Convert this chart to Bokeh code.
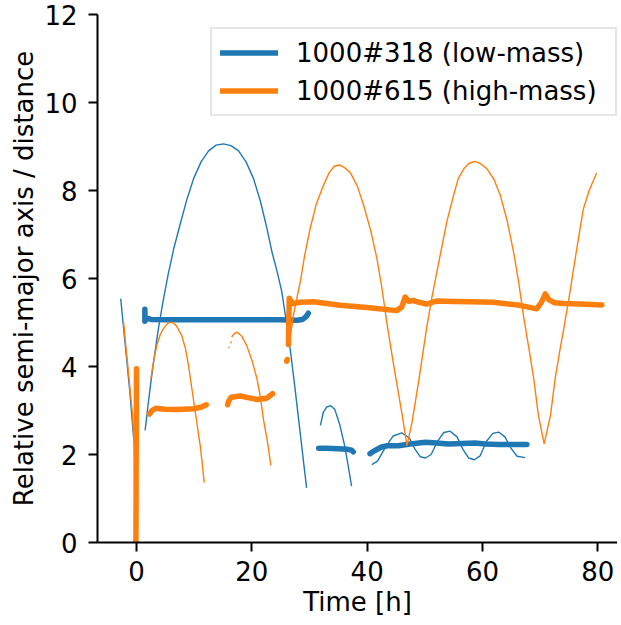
from bokeh.plotting import figure
from bokeh.models import Range1d, Legend, LegendItem, FixedTicker
from bokeh.embed import file_html
from bokeh.resources import INLINE

nan = float("nan")

# ---- data ----
# low-mass system 1000#318: distance (thin) and semi-major axis (thick)
low_dist_t = [-2.74, -2.0, -1.2, -0.45, nan,
              1.5, 2.0, 2.5, 3.0, 3.8, 4.6, 5.5, 6.5, 7.5, 8.7, 9.9, 11.2, 12.5, 13.8, 15.1,
              16.4, 17.7, 19.0, 20.3, 21.5, 22.6, 23.5, 24.4, 25.2, 26.0, 26.8, 27.5, 28.0, 28.5, 29.0, 29.5, nan,
              31.9, 32.4, 33.0, 33.7, 34.4, 35.2, 36.1, 36.7, 37.3, nan,
              40.8, 41.8, 43.1, 44.5, 46.0, 47.3, 48.3, 49.2, 50.1, 51.1, 52.2, 53.3, 54.4, 55.6, 56.6, 57.6,
              58.6, 59.6, 60.7, 61.8, 62.8, 63.9, 64.9, 66.0, 67.4]
low_dist = [5.54, 4.55, 3.49, 2.3, nan,
            2.55, 3.12, 3.65, 4.14, 4.86, 5.48, 6.1, 6.7, 7.2, 7.78, 8.27, 8.65, 8.9, 9.03, 9.06,
            9.02, 8.9, 8.65, 8.27, 7.75, 7.15, 6.6, 6.15, 5.7, 5.0, 4.25, 3.49, 2.93, 2.37, 1.8, 1.24, nan,
            2.66, 2.96, 3.08, 3.11, 3.02, 2.7, 2.2, 1.75, 1.28, nan,
            1.77, 1.85, 2.15, 2.42, 2.49, 2.38, 2.12, 1.95, 1.92, 2.0, 2.3, 2.5, 2.53, 2.4, 2.12, 1.92,
            1.88, 1.97, 2.3, 2.48, 2.51, 2.4, 2.15, 1.96, 1.93]

low_a_t = [1.45, 1.45, 1.8, 2.5, 5, 10, 15, 20, 25, 27.8, 28.8, 29.4, 29.8, nan,
           31.6, 33.0, 35.0, 36.5, 37.3, 37.6, nan,
           40.5, 41.2, 42.5, 43.5, 45.4, 47.5, 50.1, 52.0, 54.1, 56.5, 58.7, 60.5, 62.8, 65.0, 67.7]
low_a = [5.3, 5.03, 5.1, 5.07, 5.06, 5.06, 5.06, 5.06, 5.06, 5.05, 5.07, 5.13, 5.21, nan,
         2.14, 2.14, 2.13, 2.12, 2.1, 2.06, nan,
         2.02, 2.08, 2.17, 2.2, 2.2, 2.24, 2.28, 2.26, 2.24, 2.25, 2.26, 2.24, 2.23, 2.23, 2.23]

# high-mass system 1000#615
high_dist_t = [-2.25, -1.5, -0.65, -0.4, -0.25, nan,
               2.48, 3.0, 3.52, 4.1, 4.68, 5.4, 6.12, 6.9, 7.86, 8.5, 9.02, 9.6, 10.2, 10.6, 11.05, 11.4, 11.74, nan,
               16.0, 16.1, nan, 16.35, 16.45, nan,
               16.5, 17.0, 17.5, 18.3, 19.1, 20.0, 20.9, 21.5, 22.0, 22.7, 23.3, nan,
               26.5, 27.2, 27.8, 28.4, 29.2, 30.1, 31.2, 32.4, 33.4, 34.3, 35.2, 36.1, 37.1, 38.3, 39.4,
               40.6, 41.7, 42.6, 43.4, 44.2, 45.0, 46.0, 46.9, 47.8, 49.0, 50.3, 51.2, 52.1, 53.0, 53.8,
               54.8, 55.8, 56.8, 57.7, 58.7, 59.8, 60.8, 62.0, 63.1, 64.3, 65.4, 66.3, 67.1, 68.0, 68.9,
               69.7, 70.7, 71.8, 72.6, 73.4, 74.1, 75.0, 75.8, 76.7, 77.5, 78.5, 79.8]
high_dist = [5.01, 4.0, 2.85, 2.2, 0.95, nan,
             3.72, 4.15, 4.48, 4.72, 4.86, 4.98, 5.01, 4.93, 4.7, 4.4, 4.02, 3.5, 2.96, 2.6, 2.2, 1.8, 1.36, nan,
             4.42, 4.45, nan, 4.53, 4.57, nan,
             4.67, 4.75, 4.78, 4.68, 4.48, 4.15, 3.72, 3.3, 2.81, 2.3, 1.75, nan,
             4.55, 5.15, 5.55, 5.92, 6.55, 7.13, 7.7, 8.11, 8.4, 8.55, 8.58, 8.52, 8.4, 8.1, 7.66,
             7.1, 6.45, 5.75, 5.01, 4.35, 3.72, 2.96, 2.2, 2.74, 3.72, 4.86, 5.55, 6.15, 6.75, 7.28,
             7.8, 8.27, 8.5, 8.62, 8.66, 8.6, 8.49, 8.25, 7.89, 7.3, 6.6, 5.9, 5.16, 4.45, 3.72,
             2.89, 2.24, 2.89, 3.72, 4.35, 4.86, 5.55, 6.22, 6.95, 7.58, 8.0, 8.4]

high_a_t = [-0.1, -0.05, 0.0, nan,
            2.25, 2.7, 3.3, 5.0, 7.0, 9.9, 11.3, 12.1, nan,
            15.8, 15.95, 16.4, 18.0, 20.9, 22.6, 23.6, nan,
            26.05, 26.15, nan,
            26.35, 26.4, 26.5, 26.7, 27.2, 28.4, 30.7, 35.3, 40.0, 45.1, 46.0, 46.6, 47.2, 48.0, 49.0,
            50.3, 52.1, 55.0, 58.0, 61.9, 66.5, 69.4, 70.2, 70.9, 71.5, 72.5, 74.1, 77.0, 80.7]
high_a = [0.0, 2.0, 3.95, nan,
          2.92, 3.0, 3.05, 3.03, 3.02, 3.04, 3.08, 3.13, nan,
          3.13, 3.2, 3.3, 3.33, 3.25, 3.28, 3.38, nan,
          4.12, 4.16, nan,
          4.5, 5.0, 5.55, 5.5, 5.43, 5.46, 5.47, 5.39, 5.34, 5.27, 5.35, 5.58, 5.48, 5.5, 5.46,
          5.42, 5.49, 5.48, 5.47, 5.46, 5.39, 5.31, 5.45, 5.65, 5.52, 5.45, 5.43, 5.42, 5.4]

x_ticks = [0, 20, 40, 60, 80]
y_ticks = [0, 2, 4, 6, 8, 10, 12]
labels = ["1000#318 (low-mass)", "1000#615 (high-mass)"]

BLUE = "#1f77b4"
ORANGE = "#ff7f0e"
FONT = "DejaVu Sans"
FS = "26px"

p = figure(width=617, height=621, output_backend="svg", toolbar_location=None,
           x_range=Range1d(-6.764, 83.42), y_range=Range1d(0, 12),
           min_border_left=97, min_border_right=0, min_border_top=14, min_border_bottom=79)

p.outline_line_color = None
p.xgrid.visible = False
p.ygrid.visible = False
p.background_fill_color = "white"

p.xaxis.ticker = FixedTicker(ticks=x_ticks, minor_ticks=[])
p.yaxis.ticker = FixedTicker(ticks=y_ticks, minor_ticks=[])
for ax in (p.xaxis[0], p.yaxis[0]):
    ax.axis_line_color = "black"
    ax.axis_line_width = 2
    ax.major_tick_line_color = "black"
    ax.major_tick_line_width = 2
    ax.major_tick_out = 9
    ax.major_tick_in = 0
    ax.minor_tick_out = 0
    ax.minor_tick_in = 0
    ax.major_label_text_font = FONT
    ax.major_label_text_font_size = FS
    ax.major_label_text_color = "black"
    ax.axis_label_text_font = FONT
    ax.axis_label_text_font_size = FS
    ax.axis_label_text_font_style = "normal"
    ax.axis_label_text_color = "black"

p.yaxis.major_label_standoff = 11
p.yaxis.axis_label = "Relative semi-major axis / distance"
p.yaxis.axis_label_standoff = 2

p.xaxis.major_label_standoff = 9
p.xaxis.axis_label = "Time [h]"
p.xaxis.axis_label_standoff = 3

p.line(low_dist_t, low_dist, line_color=BLUE, line_width=1.4)
r_low = p.line(low_a_t, low_a, line_color=BLUE, line_width=5.5, line_cap="round", line_join="round")
p.line(high_dist_t, high_dist, line_color=ORANGE, line_width=1.4)
r_high = p.line(high_a_t, high_a, line_color=ORANGE, line_width=5.5, line_cap="round", line_join="round")

legend = Legend(items=[LegendItem(label=labels[0], renderers=[r_low]),
                       LegendItem(label=labels[1], renderers=[r_high])],
                location=(113, 426), margin=0, padding=8, spacing=7,
                glyph_width=58, glyph_height=31, label_height=31, label_width=311, label_standoff=18,
                label_text_font=FONT, label_text_font_size=FS, label_text_color="black",
                border_line_color="#cccccc", border_line_width=2,
                background_fill_color="white", background_fill_alpha=0.8)
p.add_layout(legend)

open("out.html", "w").write(file_html(p, INLINE))
